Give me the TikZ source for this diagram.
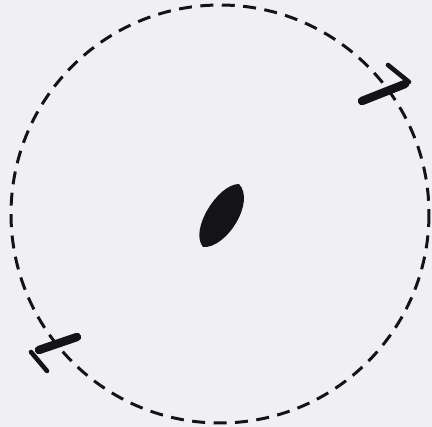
\documentclass[tikz,border=0pt]{standalone}
\usepackage{tikz}
\usetikzlibrary{calc}
\definecolor{paper}{RGB}{240,240,243}
\definecolor{ink}{RGB}{20,20,22}

\begin{document}
\begin{tikzpicture}[x=0.01cm,y=-0.01cm,line cap=round]
			\fill[paper] (0,0) rectangle (432,427);
			\useasboundingbox (0,0) rectangle (432,427);
			\coordinate (centre) at (220,214);
			\draw[ink, line width=0.85pt, dash pattern=on 3.7pt off 2.4pt, line cap=butt] (centre) circle (209);
			% blob in the middle
			\fill[ink] (239,184) .. controls (256,202) and (226,249) .. (203,247)
				.. controls (189,230) and (218,184) .. (239,184) -- cycle;
			% upper right mark
			\draw[ink, line width=2.4pt] (362,101) -- (405,84);
			\draw[ink, line width=1.3pt] (388,65) -- (409,82);
			% lower left mark
			\draw[ink, line width=2.4pt] (39,350) -- (77,337);
			\draw[ink, line width=1.3pt] (31,352) -- (47,371);
		\end{tikzpicture}
\end{document}
